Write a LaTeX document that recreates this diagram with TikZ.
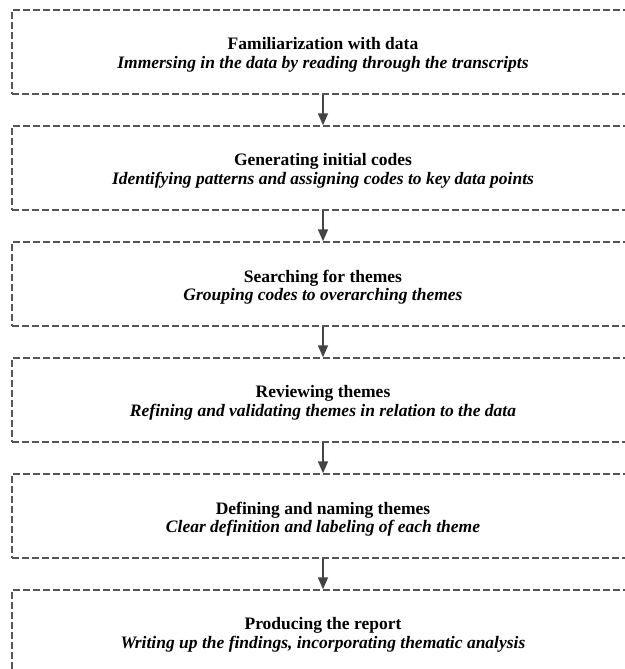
\documentclass[tikz,border=0pt]{standalone}
\usepackage{fontspec}
\setmainfont{Liberation Serif}
\usetikzlibrary{arrows.meta,positioning}
\definecolor{framegray}{HTML}{555555}
\definecolor{arrowgray}{HTML}{444444}
\tikzset{
  phase/.style={draw=framegray, line width=1.4pt, dash pattern=on 7pt off 3pt,
    rectangle, minimum width=622pt, minimum height=84pt, inner sep=0pt},
  phasetext/.style={align=center, inner sep=0pt,
    font=\fontsize{17.5}{18.5}\selectfont},
  flow/.style={draw=arrowgray, line width=1.6pt,
    -{Triangle[length=12pt,width=10pt]}}
}
\newcommand{\phaselines}[2]{\textbf{#1}\\\textbf{\textit{#2}}}
\begin{document}
\begin{tikzpicture}[x=1pt,y=1pt]
  \useasboundingbox (0,0) rectangle (624,-669);
  \foreach \n/\y/\t/\s in {
    p1/-52/{Familiarization with data}/{Immersing in the data by reading through the transcripts},
    p2/-168/{Generating initial codes}/{Identifying patterns and assigning codes to key data points},
    p3/-284/{Searching for themes}/{Grouping codes to overarching themes},
    p4/-400/{Reviewing themes}/{Refining and validating themes in relation to the data},
    p5/-516/{Defining and naming themes}/{Clear definition and labeling of each theme},
    p6/-632/{Producing the report}/{Writing up the findings, incorporating thematic analysis}}
  {
    \node[phase] (\n) at (323,\y) {};
    \node[phasetext] (\n-text) at ([yshift=-3pt]\n.center) {\phaselines{\t}{\s}};
  }
  \foreach \a/\b in {p1/p2,p2/p3,p3/p4,p4/p5,p5/p6}
    \draw[flow] (\a.south) -- (\b.north);
\end{tikzpicture}
\end{document}
